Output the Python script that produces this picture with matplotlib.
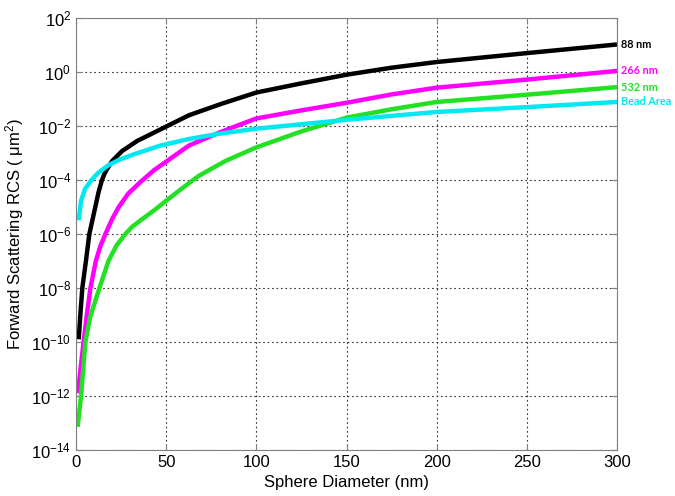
import numpy as np
import matplotlib.pyplot as plt
from matplotlib.ticker import FixedLocator, FuncFormatter

plt.rcParams['font.family'] = ['Liberation Sans', 'DejaVu Sans']

# diameters (nm) and log10 of forward scattering RCS (um^2)
d_88 = [1.5, 2.4, 3.5, 5.5, 7.4, 10.7, 12.5, 14.4, 15.7, 17, 20, 25.5, 34,
        41.3, 50.6, 62.7, 81, 100, 125, 150, 175, 200, 250, 300]
log_88 = [-9.9, -9.0, -8.0, -7.0, -6.0, -5.0, -4.45, -4.0, -3.78, -3.62,
          -3.3, -2.93, -2.55, -2.31, -2.0, -1.6, -1.17, -0.76, -0.42, -0.1,
          0.16, 0.37, 0.70, 1.02]

d_266 = [1.1, 2.4, 4.2, 6, 8, 11, 13.5, 16.3, 20, 23.7, 29, 35, 43, 50.6,
         62.7, 81, 100, 125, 150, 175, 200, 250, 300]
log_266 = [-11.9, -11.06, -10.0, -9.0, -8.0, -7.0, -6.45, -6.0, -5.45, -5.0,
           -4.5, -4.12, -3.65, -3.29, -2.72, -2.2, -1.72, -1.42, -1.14,
           -0.83, -0.58, -0.28, 0.04]

d_532 = [0.9, 2.8, 4, 5.2, 7.9, 13, 18, 22.5, 27.4, 31, 35.7, 43, 50, 58, 68,
         83, 100, 125, 150, 175, 200, 250, 300]
log_532 = [-13.14, -12.0, -11.0, -10.0, -9.06, -8.0, -7.0, -6.42, -6.0,
           -5.74, -5.5, -5.14, -4.77, -4.35, -3.85, -3.29, -2.79, -2.2,
           -1.69, -1.38, -1.11, -0.84, -0.56]

d_bead = [1.5, 2.8, 5, 8.6, 12, 18, 24, 32, 47, 62.7, 80, 100, 150, 200,
          250, 300]
log_bead = [-5.49, -4.77, -4.33, -4.0, -3.75, -3.45, -3.25, -3.05, -2.72,
            -2.48, -2.28, -2.1, -1.77, -1.48, -1.30, -1.11]

series = [
    (d_88, log_88, '#000000', '88 nm'),
    (d_266, log_266, '#ff00ff', '266 nm'),
    (d_532, log_532, '#22e022', '532 nm'),
    (d_bead, log_bead, '#00e8f0', 'Bead Area'),
]

fig = plt.figure(figsize=(6.75, 4.96), dpi=100)
ax = fig.add_axes([0.1126, 0.0927, 0.8015, 0.871])

for d, lg, col, lab in series:
    r = 10.0 ** np.array(lg)
    ax.plot(d, r, color=col, lw=3.2, solid_capstyle='butt',
            solid_joinstyle='round')
    ax.annotate(lab, xy=(1.0, r[-1]), xycoords=('axes fraction', 'data'),
                xytext=(3, 0), textcoords='offset points', va='center',
                ha='left', color=col, fontsize=7.8, fontweight='bold',
                family=['Lato', 'DejaVu Sans'], annotation_clip=False)

ax.set_yscale('log')
ax.set_xlim(0, 300)
ax.set_ylim(1e-14, 1e2)
ax.set_xticks([0, 50, 100, 150, 200, 250, 300])
ax.yaxis.set_major_locator(FixedLocator([10.0 ** k for k in range(-14, 3, 2)]))
ax.yaxis.set_minor_locator(FixedLocator([]))
ax.yaxis.set_major_formatter(FuncFormatter(
    lambda v, p: r'$\mathregular{10^{%d}}$' % round(np.log10(v))))

ax.grid(True, which='major', ls=(0, (1.5, 2.5)), color='#333333', lw=0.8)
ax.tick_params(direction='in', length=4, labelsize=12, color='#808080',
               top=True, right=True)
for s in ax.spines.values():
    s.set_color('#808080')

ax.set_xlabel('Sphere Diameter (nm)', fontsize=12)
ax.set_ylabel(r'Forward Scattering RCS ( $\mathregular{\mu m^2}$)', fontsize=12)

fig.savefig('out.png', dpi=100)
